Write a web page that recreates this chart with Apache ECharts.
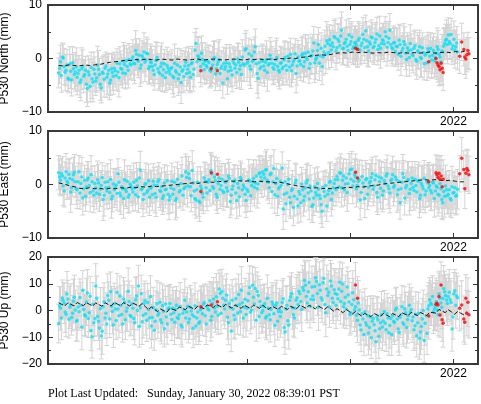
<!DOCTYPE html>
<html>
<head>
<meta charset="utf-8">
<script src="https://cdn.jsdelivr.net/npm/echarts@6/dist/echarts.min.js"></script>
<style>html,body{margin:0;padding:0;background:#fff;}#c{width:481px;height:404px;}</style>
</head>
<body>
<div id="c"></div>
<script>
// ---- x axis (decimal years) ----
const xMin = 2018.067, xMax = 2022.238;
const yearTicks = [2019, 2020, 2021, 2022];
const yearLabels = [2022];

// cyan epochs: two interleaved regular grids (A starts at t0, B at t0B), spacing dt (years)
const t0 = 2018.17, t0B = 2018.179, dt = 0.018;

const north = [
-2.7,-0.6,0.3,-1.5,-2.2,-3.7,-1.0,-4.0,-1.9,-2.5,
-3.5,-2.2,-4.0,-1.5,-3.0,-4.8,-2.5,-5.2,-3.8,-2.0,
-4.2,-1.2,-3.0,-5.5,-2.8,-1.8,-3.5,-2.2,-4.0,-2.6,
-1.8,-3.2,-2.5,-1.0,-2.0,-0.5,-2.8,-1.5,-0.2,-1.2,
0.3,-1.0,0.8,-0.5,-1.8,0.5,1.2,-0.3,0.9,-1.5,
-0.8,-2.2,-1.2,0.2,-2.5,-1.5,-3.2,-1.0,-2.6,-1.8,
-2.9,-1.7,-3.6,-2.3,-1.2,-3.0,-4.5,-2.1,-1.4,-2.8,
-1.3,-3.5,-0.8,-2.0,2.8,0.5,-0.3,1.0,-1.0,-0.5,
-1.6,-0.8,-2.4,-1.2,0.2,-1.9,-0.6,-2.8,-1.4,-0.9,
-1.5,-3.8,-1.0,-2.2,-0.4,-1.8,-2.6,-0.7,-1.3,0.3,
-1.2,1.8,-0.6,-1.4,0.5,-0.3,2.2,-2.8,-0.8,-1.6,
-0.5,-2.2,-0.2,-1.2,0.6,-0.9,-2.0,-0.3,-1.5,-2.5,
-0.8,-1.6,0.2,-2.2,-0.5,0.8,-1.2,-0.2,-2.8,0.3,
-0.4,0.6,-1.5,1.0,-0.2,-1.8,0.4,1.4,-0.8,0.2,
2.6,0.5,-1.5,1.2,0.8,2.8,3.5,1.6,2.2,3.9,
2.0,3.2,4.2,1.8,2.8,3.6,1.5,2.6,4.0,2.2,
3.0,1.9,3.8,2.4,4.5,2.0,3.3,1.4,2.7,3.9,
2.3,3.6,1.7,4.2,2.8,3.3,5.0,2.1,3.8,2.6,
1.8,3.0,2.3,0.8,2.6,1.4,3.2,1.0,2.0,0.2,
1.6,0.5,2.4,-0.5,1.2,0.2,2.0,-1.0,0.9,1.8,
0.4,-0.3,1.5,0.2,2.2,0.8,-0.6,1.2,2.8,3.6,
4.4,2.8,1.8,3.6,2.2,1.2
];
const northB = [
-1.8,-3.2,0.1,-2.6,-1.2,-3.9,-2.4,-0.8,-3.0,-1.6,
-2.8,-4.5,-1.9,-3.3,-2.2,-5.6,-3.1,-1.7,-4.4,-2.9,
-3.6,-2.0,-4.8,-2.5,-3.9,-1.4,-2.9,-4.6,-1.9,-3.3,
-2.3,-0.9,-3.6,-1.8,-2.7,-1.1,-0.4,-2.2,-1.0,-0.3,
-0.9,1.5,-0.2,0.6,-1.2,0.1,-0.7,1.0,-1.9,-0.6,
-1.5,-3.0,-0.4,-1.9,-2.8,-0.9,-2.1,-3.6,-1.3,-2.4,
-1.9,-3.3,-0.9,-2.6,-3.8,-1.6,-2.4,-3.4,-0.7,-2.0,
-2.6,-1.0,-3.0,1.6,-0.6,0.3,-1.5,-0.2,-2.1,-1.3,
-0.5,-2.2,-1.7,-0.3,-2.9,-1.1,-0.2,-1.8,-4.6,-2.0,
-0.8,-2.4,-1.6,-3.1,-0.9,-1.2,-0.1,-2.0,-3.0,-1.0,
1.6,-0.9,0.9,-2.0,-0.5,1.2,-1.0,-3.7,-1.9,-0.4,
-1.4,-0.7,-2.6,-1.0,-0.1,-1.7,-1.1,0.2,-2.2,-0.9,
-1.9,-0.3,-1.3,0.4,-1.6,-2.3,-0.6,0.9,-1.4,-0.5,
-1.1,0.9,-0.6,0.2,1.2,-1.0,0.6,2.9,-0.2,1.5,
-0.9,1.9,0.3,2.3,3.3,1.1,2.5,2.9,4.1,1.4,
3.6,2.4,5.3,1.9,3.0,2.3,4.4,3.2,1.8,2.9,
2.5,3.4,1.6,2.9,3.6,5.2,2.2,3.1,4.0,2.0,
3.0,4.6,2.4,1.9,3.5,2.7,4.1,3.0,5.3,2.0,
2.9,1.3,2.2,3.4,0.4,1.9,2.6,-0.2,1.5,2.8,
0.8,1.9,-0.2,1.4,2.2,0.0,1.1,0.6,-0.8,1.3,
1.9,0.6,-0.4,1.0,1.7,0.3,1.4,2.3,3.4,2.6,
3.2,4.5,2.4,1.6,2.9
];
const east = [
2.2,0.8,1.6,-1.2,2.4,0.3,1.1,-0.6,1.8,0.5,
-1.0,2.4,0.2,-2.5,0.8,-0.4,1.2,-1.5,0.5,-2.0,
-0.6,0.9,-1.8,-0.2,-2.8,0.4,-1.2,-0.5,1.0,-2.2,
-1.0,-0.1,2.0,-1.6,-0.4,-2.6,-0.9,0.6,-1.9,-0.3,
-1.4,-0.6,0.8,-2.3,2.7,-0.8,-1.8,0.2,-1.1,-2.4,
-0.5,0.6,-1.7,-0.2,0.9,-1.3,-2.6,0.3,-0.9,-1.8,
-2.3,0.6,-0.9,-3.0,1.0,-1.4,0.2,-2.0,-0.5,1.3,
2.0,-0.4,2.6,-1.2,-2.9,0.4,-3.3,-0.8,-2.4,0.6,
-1.6,0.9,2.6,-0.4,1.4,-1.8,0.2,-0.9,1.0,-1.5,
0.4,-1.2,1.1,-2.0,-0.3,0.8,-3.0,-0.6,1.3,-1.0,
-0.5,-3.0,-1.3,0.6,-0.2,1.1,0.3,-0.8,2.0,1.4,
2.4,1.2,2.8,0.4,1.8,-1.3,3.0,0.2,-2.2,-0.5,
-0.2,-4.6,0.5,-1.6,1.0,-3.4,-0.8,-2.2,0.8,-4.0,
-1.8,0.1,-3.0,-0.6,0.8,-2.7,-1.2,-3.8,-0.4,-2.0,
-0.9,-2.6,-5.0,-1.3,-0.2,-1.8,0.4,-2.8,-0.6,0.9,
1.5,-0.4,2.1,0.8,-1.0,1.2,0.2,2.7,2.9,0.6,
1.4,-0.2,0.9,-1.5,0.3,-2.6,1.1,-0.5,0.6,2.0,
-0.3,1.7,-2.4,0.5,1.2,-1.2,0.2,2.0,-0.8,0.7,
1.8,-0.2,0.9,-1.0,-3.4,0.4,1.3,-0.6,0.8,-1.7,
0.2,-0.5,1.0,-1.4,0.6,-2.0,-0.3,1.1,-1.2,0.3,
-0.2,-1.6,0.3,-1.2,-0.5,-2.0,-0.8,-3.4,-2.2,-1.0,
-1.8,-2.6,-0.4,-1.5,-2.2,-0.9
];
const eastB = [
1.4,2.0,-0.3,1.2,0.6,1.9,-1.4,0.9,2.3,-0.8,
0.5,-1.6,1.4,-0.8,-2.2,0.9,-0.2,1.8,-1.2,0.2,
-1.6,0.3,-0.9,1.3,-2.0,-0.6,0.5,-1.5,-2.7,0.1,
-0.5,-1.7,0.4,-2.1,-0.8,0.9,-1.3,-2.4,0.1,-0.8,
0.4,-1.9,-0.3,1.2,-1.0,-2.8,0.0,-1.5,0.7,-0.7,
-1.9,-0.1,-2.4,0.5,-1.1,-0.4,-2.1,-1.0,0.7,-2.9,
-0.6,-1.8,0.4,-2.6,-0.2,-1.1,1.6,-0.8,2.4,-0.3,
1.1,-2.1,0.3,-2.6,-1.0,-3.1,-0.3,-1.7,1.2,-0.6,
0.4,-1.1,2.0,-0.7,0.7,-2.4,1.2,-0.2,-1.2,0.6,
-0.6,1.6,-3.2,-0.9,0.5,-1.6,0.2,-2.3,0.9,-0.1,
-1.8,-0.9,0.9,-2.1,0.5,-0.5,1.6,0.1,2.2,0.7,
1.9,2.7,0.8,-0.6,2.1,0.5,-1.9,1.1,-0.8,0.6,
3.1,-1.8,-3.6,0.0,-2.4,-1.1,-4.3,0.3,-2.7,-1.3,
-3.4,-1.0,-2.2,0.3,-1.6,-0.3,-4.1,-2.5,-1.5,0.2,
-2.0,-3.8,-0.5,-2.2,-4.0,-1.1,0.6,-1.6,0.2,-1.0,
0.9,2.2,-0.6,1.6,0.1,-1.5,2.0,1.0,-0.3,1.8,
-0.8,0.6,-2.9,1.5,-0.4,0.9,-1.8,0.3,1.3,-0.9,
0.9,-1.5,1.4,-0.7,-2.0,0.7,1.6,-0.3,-1.6,1.0,
-0.5,1.4,-1.9,0.6,-0.8,2.0,-2.5,-0.2,0.9,-0.9,
1.2,-1.1,-0.2,0.7,-2.6,0.2,-0.8,-1.9,0.5,-0.6,
-1.1,0.4,-2.6,-0.3,-1.8,0.2,-2.8,-1.3,-0.3,-2.1,
-1.0,-2.9,-1.6,-0.6,-2.0
];
const up = [
-4.9,0.8,4.6,2.7,-1.4,4.3,1.2,-2.6,3.5,0.2,
-3.7,-0.5,2.0,7.6,-1.6,3.2,-3.0,5.3,-9.8,-4.6,
9.2,-2.2,-6.5,-9.5,1.5,-2.8,-5.0,3.8,7.0,-0.4,
2.5,-3.7,0.6,5.4,-1.5,4.3,-3.5,0.9,3.4,-2.2,
0.8,-4.6,5.4,9.2,1.0,-4.2,2.6,-1.2,3.0,-2.8,
-5.8,1.2,-4.0,2.5,-1.0,-3.5,1.8,-6.8,-2.4,0.6,
2.6,-3.4,-0.8,0.5,-2.6,-1.6,-5.4,-1.0,3.8,-0.6,
-4.5,1.2,-1.6,-2.2,-5.8,-0.6,-4.2,0.8,2.3,-2.0,
1.4,0.2,-3.6,2.6,0.9,5.1,-1.8,6.4,7.1,2.0,
3.8,-2.5,2.6,-7.7,0.6,-3.4,1.9,6.0,-0.4,2.9,
1.2,-1.5,3.6,8.6,0.2,5.0,8.2,7.1,-2.2,1.6,
0.0,2.5,-2.2,0.9,-3.5,3.2,-1.2,1.8,-4.0,0.5,
-0.6,4.4,-8.0,2.0,-5.5,5.1,1.0,-2.8,3.8,2.2,
6.3,0.5,7.6,9.4,2.8,10.6,4.2,5.4,9.0,10.8,
1.2,7.6,3.9,12.0,-0.8,5.6,1.4,9.2,3.0,6.4,
6.0,8.0,3.4,9.9,2.6,0.6,5.8,-1.5,2.2,4.0,
1.4,-3.6,0.2,-7.3,-3.2,-0.5,-5.5,-8.4,-2.4,-4.0,
-5.3,-11.7,-3.5,-6.8,-1.6,-3.9,-4.8,-1.2,-8.3,-3.0,
-2.0,-4.5,0.8,-6.9,-2.6,1.4,-5.2,-0.8,-3.4,2.0,
0.4,-2.4,-5.7,-9.4,-1.0,-8.0,-3.2,-11.2,-2.0,0.6,
4.0,2.2,-0.5,1.5,0.3,6.3,2.8,4.6,7.0,3.9,
5.1,4.0,-6.9,6.3,2.0,4.8
];
const upB = [
1.8,-2.8,3.6,-0.6,6.2,-3.3,2.1,-1.0,5.0,-4.0,
1.3,4.9,-6.2,0.4,-2.1,6.5,-0.8,-7.5,2.4,-3.0,
4.6,-4.0,0.7,-7.8,3.3,-1.0,5.6,-3.2,1.6,-5.4,
0.6,6.8,-2.0,1.9,-5.0,3.0,-0.3,7.2,-1.9,2.4,
-3.0,4.0,0.0,-6.0,6.3,-1.8,3.6,-3.6,0.4,5.2,
-2.6,-7.4,0.3,-1.8,3.1,-4.6,-0.3,2.4,-5.0,1.0,
-1.4,0.9,-4.4,2.0,-3.0,1.5,-6.2,0.2,-2.8,1.6,
-3.2,-0.2,-6.6,1.8,-2.8,-4.8,0.3,-1.2,3.0,-5.0,
0.5,3.6,-2.2,4.3,-0.6,1.6,8.0,-1.0,4.6,0.6,
5.8,-4.6,1.0,3.8,-1.8,4.5,-0.9,2.2,7.6,-2.8,
4.2,0.8,6.4,-0.6,9.4,2.4,-3.6,5.6,3.4,-0.8,
1.6,-2.8,4.6,-1.6,0.4,2.2,-5.6,2.8,-0.4,-2.2,
3.0,-6.4,0.6,-3.8,3.8,6.4,-1.6,0.8,4.8,7.2,
3.4,8.6,11.2,5.2,7.0,1.6,8.8,4.0,12.2,6.4,
9.6,4.8,10.4,2.2,8.0,6.8,11.0,4.6,7.8,2.0,
4.4,10.6,7.2,1.4,5.0,8.8,3.2,-0.8,6.6,0.2,
-1.8,2.8,-5.4,-1.2,-9.0,-4.6,-2.0,-6.4,-10.2,-3.0,
-7.6,-2.4,-9.6,-4.6,-6.2,-0.4,-7.2,-2.8,-5.6,-9.0,
-4.0,0.2,-3.2,-8.2,-1.6,-4.6,0.6,-6.4,-2.0,-0.6,
-3.8,-7.2,-1.4,-4.6,-10.4,-6.0,0.0,-4.8,-8.6,1.8,
2.8,5.2,0.6,3.4,-1.6,4.6,1.2,8.2,5.6,2.6,
6.8,3.0,-2.4,7.4,5.4
];
// one-sigma error bars (the B epochs use the same table, index by index)
const errN = [
2.8,3.1,2.6,3.4,2.9,2.5,3.2,3.0,2.7,3.6,
3.3,2.8,3.9,3.1,2.6,3.4,3.0,2.9,3.7,3.2,
2.7,3.5,3.0,2.8,3.3,2.6,3.8,3.1,2.9,3.4,
3.0,2.7,3.6,3.2,2.8,3.5,2.9,3.3,3.0,2.6,
3.2,3.7,2.9,3.1,3.4,2.8,3.6,3.0,2.7,3.3,
3.1,2.9,3.5,2.8,3.2,3.8,3.0,2.7,3.4,3.1,
2.9,3.3,3.6,2.8,3.1,3.4,3.9,3.0,2.7,3.2,
3.5,2.9,3.1,3.3,2.8,3.6,3.0,3.2,2.7,3.4,
3.0,3.3,2.8,3.5,3.1,2.9,3.7,3.2,2.8,3.0,
3.4,2.9,3.6,3.1,2.7,3.3,3.0,3.5,2.8,3.2,
3.1,3.4,2.9,3.6,3.0,2.8,3.3,3.7,3.1,2.9,
3.2,3.0,3.5,2.8,3.3,3.1,2.9,3.6,3.0,3.2,
2.9,3.4,3.1,2.7,3.5,3.0,3.3,2.8,3.6,3.1,
3.0,3.3,2.9,3.5,3.2,2.8,3.4,3.1,3.7,3.0,
3.2,2.9,3.4,3.0,3.6,3.1,2.8,3.3,3.0,3.5,
2.9,3.2,3.4,3.0,2.8,3.6,3.1,3.3,2.9,3.2,
3.0,3.5,2.8,3.3,3.1,2.9,3.6,3.0,3.2,2.8,
3.4,3.1,2.9,3.7,3.0,3.3,2.8,3.5,3.1,3.0,
3.2,2.8,3.4,3.0,3.6,2.9,3.3,3.1,2.8,3.5,
3.0,3.2,2.9,3.4,3.1,3.6,2.8,3.0,3.3,3.1,
2.9,3.4,3.2,3.0,3.5,2.8,3.1,3.3,3.0,3.6,
3.2,3.0,2.9,3.4,3.1,3.3
];
const errE = [
3.2,2.9,3.6,3.0,3.4,2.8,3.8,3.1,3.3,2.9,
3.5,3.0,3.7,3.2,2.8,3.4,3.1,3.6,2.9,3.3,
3.0,3.5,3.2,2.8,3.9,3.1,3.4,3.0,3.6,2.9,
3.3,3.1,2.8,3.5,3.0,3.7,3.2,2.9,3.4,3.1,
3.6,3.0,3.3,2.9,3.5,3.2,2.8,3.8,3.1,3.4,
3.0,3.3,3.6,2.9,3.2,3.5,3.0,3.4,2.8,3.7,
3.1,3.4,2.9,3.6,3.2,3.0,3.5,2.8,3.3,3.9,
3.2,3.0,3.7,3.1,3.4,2.9,3.6,3.2,3.0,3.5,
3.3,2.9,3.4,3.1,3.8,3.0,3.2,3.6,2.9,3.3,
3.5,3.1,3.0,3.7,3.2,2.8,3.4,3.6,3.1,3.0,
3.4,3.2,3.8,2.9,3.3,3.5,3.0,3.6,3.2,3.1,
2.9,3.4,3.7,3.0,3.3,3.1,3.5,2.8,3.6,3.2,
3.0,3.8,3.3,3.1,3.5,2.9,3.4,3.7,3.0,3.2,
3.6,3.1,2.9,3.4,3.2,3.9,3.0,3.3,3.5,3.1,
3.2,3.5,3.0,3.7,2.9,3.3,3.6,3.1,3.4,3.0,
3.3,2.9,3.6,3.2,3.0,3.5,3.8,3.1,3.3,2.9,
3.4,3.1,3.7,3.0,3.2,3.6,2.9,3.5,3.3,3.1,
3.0,3.6,3.2,3.9,3.1,3.4,3.0,3.5,3.7,3.2,
3.5,3.0,3.3,3.8,3.1,3.6,3.2,2.9,3.4,4.0,
3.1,3.7,3.3,3.0,3.6,3.2,3.9,3.4,3.1,3.5,
3.8,3.2,3.5,3.0,4.1,3.3,3.6,3.2,3.9,3.4,
3.6,3.3,3.8,3.1,3.5,3.7
];
const errU = [
7.2,8.1,6.8,7.6,8.4,7.0,7.9,6.6,8.2,7.4,
7.8,6.9,8.5,7.3,7.7,8.8,7.1,7.5,8.0,6.7,
8.3,7.2,7.9,8.6,7.0,7.6,8.1,6.9,7.4,8.4,
7.7,7.1,8.2,7.5,6.8,8.0,7.3,8.7,7.6,7.0,
7.9,8.3,7.2,7.7,6.9,8.5,7.4,8.0,7.1,7.8,
8.2,7.5,7.0,8.6,7.3,7.9,8.1,6.8,7.6,8.4,
7.2,7.8,8.3,7.0,7.5,8.9,7.4,7.7,8.0,7.1,
7.6,8.2,7.3,8.5,7.0,7.9,7.4,8.1,6.9,7.7,
8.4,7.2,7.8,8.0,7.5,8.7,7.1,7.6,8.3,7.4,
7.9,8.2,7.0,7.7,8.5,7.3,8.0,7.6,8.8,7.2,
7.8,8.4,7.5,8.1,7.1,8.6,7.9,7.3,8.2,7.7,
8.0,7.4,8.7,7.6,8.3,7.2,7.9,8.5,7.0,7.8,
8.1,7.5,8.4,7.3,8.9,7.7,8.0,7.4,8.6,7.2,
7.9,8.3,7.6,8.8,7.4,8.1,7.8,8.5,7.5,8.2,
8.6,7.8,8.3,7.5,9.0,8.0,7.7,8.4,7.9,8.7,
8.1,7.6,8.5,7.9,8.2,7.4,8.8,7.7,8.3,8.0,
7.8,8.4,7.5,8.1,7.9,8.6,7.3,8.2,7.8,8.5,
8.0,7.6,8.3,7.4,8.7,7.9,8.1,7.5,8.4,7.8,
7.7,8.2,7.9,8.6,7.5,8.0,8.3,7.6,8.8,7.9,
8.1,7.7,8.4,8.0,7.8,8.5,7.6,8.2,7.9,8.6,
8.3,7.8,8.1,8.7,7.9,8.4,8.0,8.6,7.7,8.2,
8.5,8.0,8.3,7.9,8.6,8.1
];

// red (flagged) epochs and values
const redT = [2019.55,2019.65,2019.71,2021.05,2021.07,2021.76,2021.83,2021.84,2021.85,2021.86,2021.87,2021.88,2021.89,2021.90,2022.06,2022.08,2022.10,2022.11,2022.12,2022.13,2022.14,2022.15];
const redN = [-2.3,-1.9,-2.3,1.9,1.7,-0.6,0.0,-0.8,-1.2,-1.5,-2.1,-0.9,-1.8,-2.6,0.4,3.1,1.7,0.3,-0.1,0.7,1.5,0.9];
const redE = [-1.3,2.2,1.9,2.3,1.2,0.5,2.2,1.8,1.3,2.1,1.0,1.6,-0.4,1.0,2.0,4.9,2.8,-0.8,2.1,3.0,2.6,1.8];
const redU = [1.4,2.1,3.3,9.5,4.6,-2.1,2.3,2.7,2.1,5.2,-1.7,9.5,-3.5,-4.8,0.8,2.1,-3.2,-4.4,4.6,-1.0,3.1,-1.6];
const redErrN = [3.0,3.2,2.9,3.1,3.3,3.0,3.4,3.1,3.2,3.5,3.0,3.3,3.1,3.4,3.2,3.5,3.1,3.3,3.6,3.2,3.4,3.0];
const redErrE = [3.3,3.5,3.1,3.4,3.2,3.6,3.3,3.7,3.4,3.2,3.5,3.8,3.3,3.6,3.4,3.9,3.5,3.7,3.4,3.6,3.8,3.5];
const redErrU = [7.8,8.2,7.5,8.4,8.0,8.6,8.1,8.5,7.9,8.8,8.3,8.7,8.0,8.9,8.4,9.0,8.6,8.2,8.8,8.5,9.1,8.7];

// model (trend) curves
const trendNEt0 = 2018.17, trendNEdt = 0.05;
const trendN = [
-1.3,-1.4,-1.2,-1.3,-1.4,-1.2,-1.3,-1.2,-1.1,-0.9,-0.7,
-0.6,-0.5,-0.3,-0.4,-0.2,-0.3,-0.1,-0.2,-0.3,-0.1,
-0.2,-0.3,-0.1,-0.2,-0.3,-0.2,-0.1,-0.3,-0.2,-0.1,
-0.2,-0.3,-0.2,-0.1,-0.2,-0.3,-0.1,-0.2,-0.1,-0.2,
-0.1,-0.2,0.0,-0.1,0.1,0.0,0.2,0.3,0.5,0.6,
0.7,0.6,0.8,1.0,1.1,1.0,1.2,1.1,1.2,1.1,
1.0,1.1,1.0,1.2,1.1,1.0,1.1,1.0,1.1,1.0,
1.1,1.2,1.0,1.1,1.2,1.1,1.3,1.2,1.4
];
const trendE = [
0.3,0.1,-0.2,-0.4,-0.7,-0.8,-0.6,-0.8,-0.7,-0.9,-0.7,
-0.8,-0.6,-0.7,-0.5,-0.6,-0.4,-0.5,-0.3,-0.4,-0.3,
-0.2,-0.1,0.0,0.1,0.2,0.3,0.2,0.4,0.5,0.4,
0.6,0.5,0.7,0.6,0.7,0.6,0.7,0.5,0.6,0.5,
0.5,0.3,0.4,0.2,0.0,-0.2,-0.4,-0.5,-0.7,-0.6,
-0.8,-0.7,-0.8,-0.6,-0.7,-0.5,-0.6,-0.4,-0.5,-0.3,
-0.2,-0.1,0.1,0.2,0.3,0.4,0.5,0.6,0.7,0.8,
0.9,0.8,0.9,0.8,0.7,0.8,0.6,0.5,0.5
];
const trendUt0 = 2018.17, trendUdt = 0.03;
const trendU = [
2.9,2.3,1.7,2.9,2.3,1.7,3.0,2.4,1.8,2.9,2.3,1.7,2.8,2.2,1.6,2.9,2.3,1.7,3.0,2.4,1.8,2.9,2.3,1.7,2.8,2.2,1.6,
2.6,1.5,0.4,1.3,0.4,-0.4,0.6,-0.1,-0.6,0.8,0.4,0.0,1.3,0.8,0.3,1.6,1.0,0.4,1.7,1.2,0.7,2.1,1.7,1.1,
2.3,1.7,1.1,2.3,1.6,0.9,2.1,1.4,0.8,2.0,1.4,0.8,2.0,1.4,0.8,2.0,1.0,0.4,1.6,1.0,0.4,1.6,1.0,0.4,
1.6,1.0,0.7,2.0,1.4,0.8,2.0,1.3,0.6,1.7,1.0,0.4,1.4,0.6,-0.3,0.7,-0.1,-0.8,0.4,-0.4,-1.3,
-0.4,-1.3,-2.1,-1.1,-1.7,-2.3,-1.1,-1.7,-2.3,-1.1,-1.7,-2.3,-1.1,-1.7,-2.3,
-0.8,-1.4,-1.9,-0.7,-1.3,-1.9,-0.7,-1.3,-1.9,-0.7,-0.8,-1.0,0.4,-0.2,-0.8,0.3,-0.5,-1.4,-0.4,-1.0,-1.6,-0.5
];

const fontSans = '"Liberation Sans", Arial, Helvetica, sans-serif';

const panels = [
  {name:'P530 North (mm)', min:-10, max:10, top:5,   a:north, b:northB, err:errN, rv:redN, re:redErrN, trend:trendN, tt0:trendNEt0, tdt:trendNEdt, dash:[4,3]},
  {name:'P530 East (mm)',  min:-10, max:10, top:131, a:east,  b:eastB,  err:errE, rv:redE, re:redErrE, trend:trendE, tt0:trendNEt0, tdt:trendNEdt, dash:[4,3]},
  {name:'P530 Up (mm)',    min:-20, max:20, top:257, a:up,    b:upB,    err:errU, rv:redU, re:redErrU, trend:trendU, tt0:trendUt0, tdt:trendUdt, dash:[5,2]}
];

const grid = [], xAxis = [], yAxis = [], series = [];
const minusFmt = v => v < 0 ? '\u2212' + (-v) : String(v);

function errRender(params, api) {
  const x = api.value(0), y = api.value(1), e = api.value(2);
  const a = api.coord([x, y + e]), b = api.coord([x, y - e]);
  const cw = 2.5;
  const mk = () => ({stroke:'#d3d3d3', lineWidth:1});
  return {type:'group', children:[
    {type:'line', shape:{x1:a[0], y1:a[1], x2:b[0], y2:b[1]}, style:mk()},
    {type:'line', shape:{x1:a[0]-cw, y1:a[1], x2:a[0]+cw, y2:a[1]}, style:mk()},
    {type:'line', shape:{x1:b[0]-cw, y1:b[1], x2:b[0]+cw, y2:b[1]}, style:mk()}
  ]};
}

panels.forEach((p, k) => {
  grid.push({left:48, width:430, top:p.top, height:107, show:true, containLabel:false, outerBoundsMode:'none',
    borderColor:'#3a3a3a', borderWidth:2, backgroundColor:'#fff'});
  const tickStyle = () => ({show:true, inside:true, length:5, customValues:yearTicks, lineStyle:{color:'#333', width:1}});
  xAxis.push({gridIndex:k, type:'value', min:xMin, max:xMax, position:'bottom',
    axisLine:{show:false, onZero:false}, splitLine:{show:false}, axisTick:tickStyle(),
    axisLabel:{show:true, customValues:yearLabels, margin:4, fontSize:12, color:'#000', fontFamily:fontSans, formatter:v => String(v)}});
  xAxis.push({gridIndex:k, type:'value', min:xMin, max:xMax, position:'top',
    axisLine:{show:false, onZero:false}, splitLine:{show:false}, axisTick:tickStyle(), axisLabel:{show:false}});
  const yTick = () => ({show:true, inside:true, length:5, lineStyle:{color:'#333', width:1}});
  const yMinor = () => ({show:true, splitNumber:2, length:3, lineStyle:{color:'#333', width:1}});
  yAxis.push({gridIndex:k, type:'value', min:p.min, max:p.max, interval:10, position:'left',
    axisLine:{show:false, onZero:false}, splitLine:{show:false}, axisTick:yTick(), minorTick:yMinor(),
    axisLabel:{margin:6, fontSize:12, color:'#000', fontFamily:fontSans, formatter:minusFmt},
    name:p.name, nameLocation:'middle', nameGap:28,
    nameTextStyle:{fontSize:12, color:'#000', fontFamily:fontSans}});
  yAxis.push({gridIndex:k, type:'value', min:p.min, max:p.max, interval:10, position:'right',
    axisLine:{show:false, onZero:false}, splitLine:{show:false}, axisTick:yTick(), minorTick:yMinor(), axisLabel:{show:false}});

  const cyan = p.a.map((v, i) => [t0 + i * dt, v]).concat(p.b.map((v, i) => [t0B + i * dt, v]));
  const red = p.rv.map((v, i) => [redT[i], v]);
  const bars = p.a.map((v, i) => [t0 + i * dt, v, p.err[i]])
    .concat(p.b.map((v, i) => [t0B + i * dt, v, p.err[i]]))
    .concat(p.rv.map((v, i) => [redT[i], v, p.re[i]]));
  const trend = p.trend.map((v, i) => [p.tt0 + i * p.tdt, v]);

  series.push({type:'custom', xAxisIndex:2*k, yAxisIndex:2*k, data:bars, renderItem:errRender,
    encode:{x:0, y:1}, clip:true, silent:true, z:1});
  series.push({type:'scatter', xAxisIndex:2*k, yAxisIndex:2*k, data:cyan, symbol:'circle', symbolSize:3.5,
    itemStyle:{color:'#00e3fb'}, clip:true, silent:true, z:2});
  series.push({type:'line', xAxisIndex:2*k, yAxisIndex:2*k, data:trend, showSymbol:false, symbol:'none',
    lineStyle:{color:'#111', width:1, type:p.dash}, clip:true, silent:true, z:3});
  series.push({type:'scatter', xAxisIndex:2*k, yAxisIndex:2*k, data:red, symbol:'circle', symbolSize:3.5,
    itemStyle:{color:'#ff0000'}, clip:true, silent:true, z:4});
});

const chart = echarts.init(document.getElementById('c'), null, {renderer:'canvas'});
chart.setOption({
  animation:false,
  backgroundColor:'#fff',
  grid, xAxis, yAxis, series,
  graphic:[{type:'text', left:48, top:388,
    style:{text:'Plot Last Updated:   Sunday, January 30, 2022 08:39:01 PST',
      font:'12px "Liberation Serif", "Times New Roman", serif', fill:'#000'}}]
});
</script>
</body>
</html>
